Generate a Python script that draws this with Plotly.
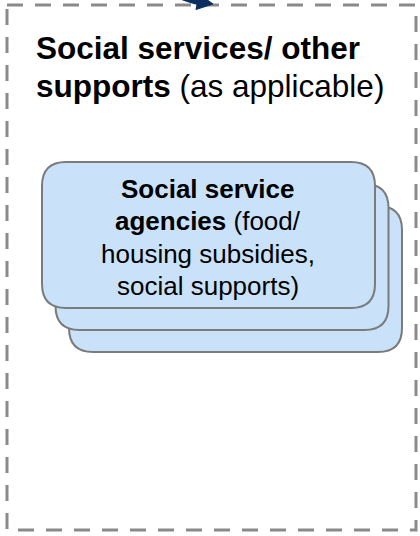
import plotly.graph_objects as go

# ---- content (text of the diagram) ----
title_lines = ["<b>Social services/ other</b>", "<b>supports</b> (as applicable)"]
card_lines = ["<b>Social service</b>", "<b>agencies</b> (food/", "housing subsidies,", "social supports)"]
stack_count = 3

# ---- geometry / style ----
W, H = 420, 536
outer = dict(x0=7, y0=5, x1=416, y1=530)
card0 = (42, 162, 375, 308)        # front card
card_offset = (13.5, 22)           # offset per stacked card
corner_r = 24
card_fill = "#c9e2fa"
card_line = "#7b7b7b"
navy = "#0c2e60"

def rounded_path(x0, y0, x1, y1, r):
    return (f"M {x0+r},{y0} L {x1-r},{y0} Q {x1},{y0} {x1},{y0+r} "
            f"L {x1},{y1-r} Q {x1},{y1} {x1-r},{y1} L {x0+r},{y1} "
            f"Q {x0},{y1} {x0},{y1-r} L {x0},{y0+r} Q {x0},{y0} {x0+r},{y0} Z")

fig = go.Figure()
shapes = []
# outer dashed container
shapes.append(dict(type="rect", xref="x", yref="y", **outer,
                   line=dict(color="#8a8a8a", width=3, dash="16px,12px"),
                   fillcolor="rgba(0,0,0,0)"))
# stacked cards, back first
for i in reversed(range(stack_count)):
    dx, dy = card_offset[0] * i, card_offset[1] * i
    x0, y0, x1, y1 = card0
    shapes.append(dict(type="path", xref="x", yref="y",
                       path=rounded_path(x0 + dx, y0 + dy, x1 + dx, y1 + dy, corner_r),
                       fillcolor=card_fill, line=dict(color=card_line, width=2)))
# incoming arrow at the top edge
shapes.append(dict(type="path", xref="x", yref="y",
                   path="M 183,-2 Q 192,1.5 200,3",
                   line=dict(color=navy, width=5)))
shapes.append(dict(type="path", xref="x", yref="y",
                   path="M 213,4 L 196,9.5 L 199,-6 Z",
                   fillcolor=navy, line=dict(color=navy, width=1)))

annotations = []
title_y = [48, 86]
for txt, y in zip(title_lines, title_y):
    annotations.append(dict(x=34, y=y, xref="x", yref="y", text=txt, showarrow=False,
                            xanchor="left", yanchor="middle",
                            font=dict(family="Liberation Sans, Arial", size=31.5, color="#000000")))
card_cx = (card0[0] + card0[2]) / 2
card_y = [189, 221, 254, 286]
for txt, y in zip(card_lines, card_y):
    annotations.append(dict(x=card_cx - 1, y=y, xref="x", yref="y", text=txt, showarrow=False,
                            xanchor="center", yanchor="middle",
                            font=dict(family="Liberation Sans, Arial", size=26, color="#000000")))

fig.update_layout(
    width=W, height=H,
    margin=dict(l=0, r=0, t=0, b=0),
    paper_bgcolor="white", plot_bgcolor="white",
    xaxis=dict(range=[0, W], visible=False, fixedrange=True),
    yaxis=dict(range=[H, 0], visible=False, fixedrange=True),
    shapes=shapes, annotations=annotations, showlegend=False,
)
fig.write_html("out.html", config={"displayModeBar": False},
               post_script="document.body.style.margin='0';document.body.style.padding='0';")
